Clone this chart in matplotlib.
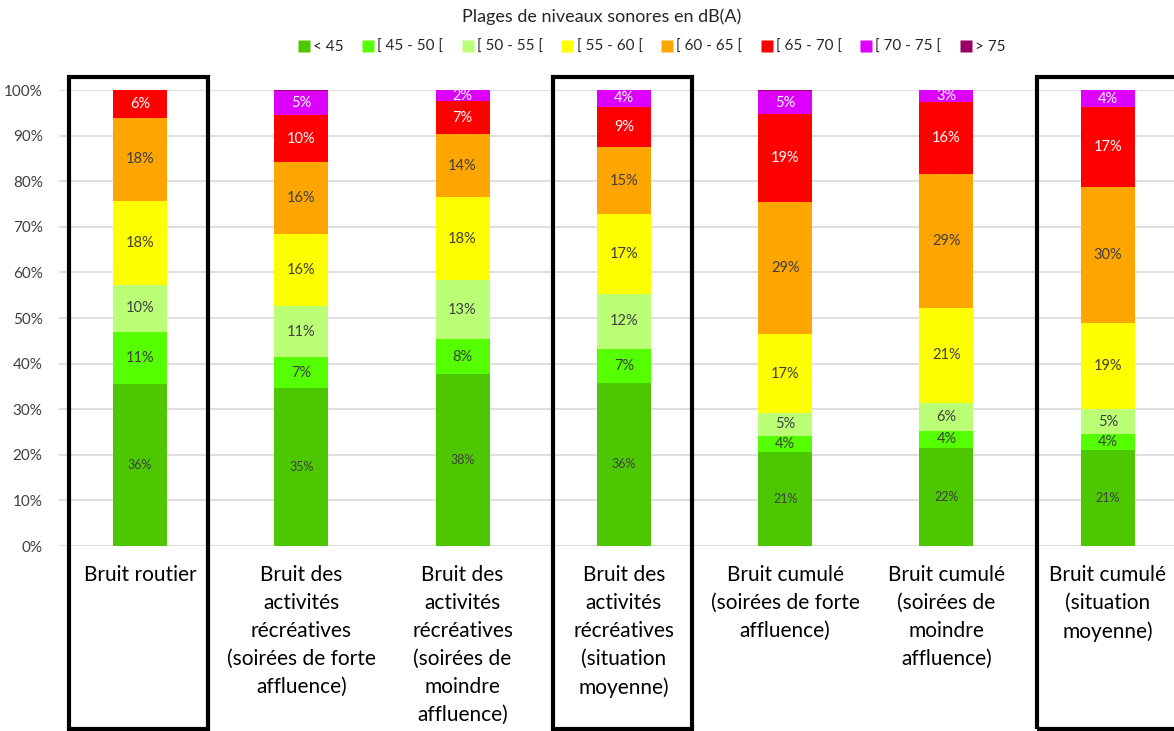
import matplotlib
matplotlib.use("Agg")
import matplotlib.pyplot as plt
from matplotlib.patches import Rectangle
from matplotlib.lines import Line2D
import matplotlib.transforms as mtransforms
import numpy as np

plt.rcParams['font.family'] = ['Lato', 'DejaVu Sans']

categories = [
    "Bruit routier",
    "Bruit des\nactivités\nrécréatives\n(soirées de forte\naffluence)",
    "Bruit des\nactivités\nrécréatives\n(soirées de\nmoindre\naffluence)",
    "Bruit des\nactivités\nrécréatives\n(situation\nmoyenne)",
    "Bruit cumulé\n(soirées de forte\naffluence)",
    "Bruit cumulé\n(soirées de\nmoindre\naffluence)",
    "Bruit cumulé\n(situation\nmoyenne)",
]
series_names = ["< 45", "[ 45 - 50 [", "[ 50 - 55 [", "[ 55 - 60 [",
                "[ 60 - 65 [", "[ 65 - 70 [", "[ 70 - 75 [", "> 75"]
colors = ["#4DC800", "#55FF00", "#BBFF77", "#FFFF00",
          "#FFA500", "#FF0000", "#DD00FF", "#990066"]

lt45   = [35.6, 34.6, 37.7, 35.8, 20.6, 21.6, 21.0]
s45_50 = [11.4, 6.8, 7.7, 7.4, 3.6, 3.6, 3.6]
s50_55 = [10.3, 11.2, 12.9, 12.1, 4.9, 6.2, 5.4]
s55_60 = [18.4, 15.8, 18.2, 17.4, 17.3, 20.9, 19.0]
s60_65 = [18.2, 15.8, 13.8, 14.9, 29.0, 29.3, 29.8]
s65_70 = [6.1, 10.3, 7.2, 8.7, 19.3, 15.8, 17.4]
s70_75 = [0.0, 5.2, 2.4, 3.7, 5.0, 2.6, 3.8]
gt75   = [0.0, 0.3, 0.0, 0.0, 0.3, 0.0, 0.0]

series = [lt45, s45_50, s50_55, s55_60, s60_65, s65_70, s70_75, gt75]
boxed = [0, 3, 6]

W, H = 1174, 731
fig = plt.figure(figsize=(W / 100, H / 100), dpi=100)
ax_left, ax_right = 59.3, 59.3 + 7 * 161.3
ax = fig.add_axes([ax_left / W, 1 - 546 / H, (ax_right - ax_left) / W, (546 - 90) / H])

x = np.arange(len(categories))
bottom = np.zeros(len(categories))
bar_w = 0.335
for k, (vals, col) in enumerate(zip(series, colors)):
    vals = np.array(vals) / 100.0
    ax.bar(x, vals, bar_w, bottom=bottom, color=col, edgecolor='none', zorder=2)
    for i, v in enumerate(vals):
        if v >= 0.015:
            txt = f"{round(v * 100):.0f}%"
            tc = 'white' if k in (5, 6) else '#404040'
            fs = 9 if k == 0 else 10.5
            ax.text(x[i], bottom[i] + v / 2, txt, ha='center', va='center',
                    fontsize=fs, color=tc, zorder=3)
    bottom += vals

ax.set_xlim(-0.5, len(categories) - 0.5)
ax.set_ylim(0, 1.0)
ax.set_yticks(np.arange(0, 1.01, 0.1))
ax.set_yticklabels([f"{int(round(t * 100))}%" for t in np.arange(0, 1.01, 0.1)])
ax.tick_params(axis='y', length=0, labelsize=11, labelcolor='#404040', pad=12)
ax.set_xticks([])
for s in ax.spines.values():
    s.set_visible(False)
ax.yaxis.grid(True, color='#D9D9D9', linewidth=1.2, zorder=0)
ax.set_axisbelow(True)

trans = mtransforms.blended_transform_factory(ax.transData, fig.transFigure)
for i, lab in enumerate(categories):
    ax.text(x[i], 1 - 565 / H, lab, transform=trans, ha='center', va='top',
            fontsize=15, color='black', linespacing=1.5, clip_on=False)

for i in boxed:
    r = Rectangle((x[i] - 0.44, 1 - 729 / H), 0.86, (729 - 77) / H,
                  transform=trans, fill=False, edgecolor='black',
                  linewidth=3, clip_on=False, zorder=5)
    ax.add_patch(r)

fig.text(602 / W, 1 - 17 / H, "Plages de niveaux sonores en dB(A)",
         ha='center', va='center', fontsize=13, color='#262626')
handles = [Line2D([], [], marker='s', linestyle='none', markersize=8,
                  markerfacecolor=c, markeredgecolor='none') for c in colors]
fig.legend(handles, series_names, loc='center', bbox_to_anchor=(651 / W, 1 - 47 / H),
           ncol=8, frameon=False, fontsize=11, handletextpad=0.1,
           columnspacing=1.1, handlelength=1.0, labelcolor='#262626')

fig.savefig("out.png", dpi=100)
